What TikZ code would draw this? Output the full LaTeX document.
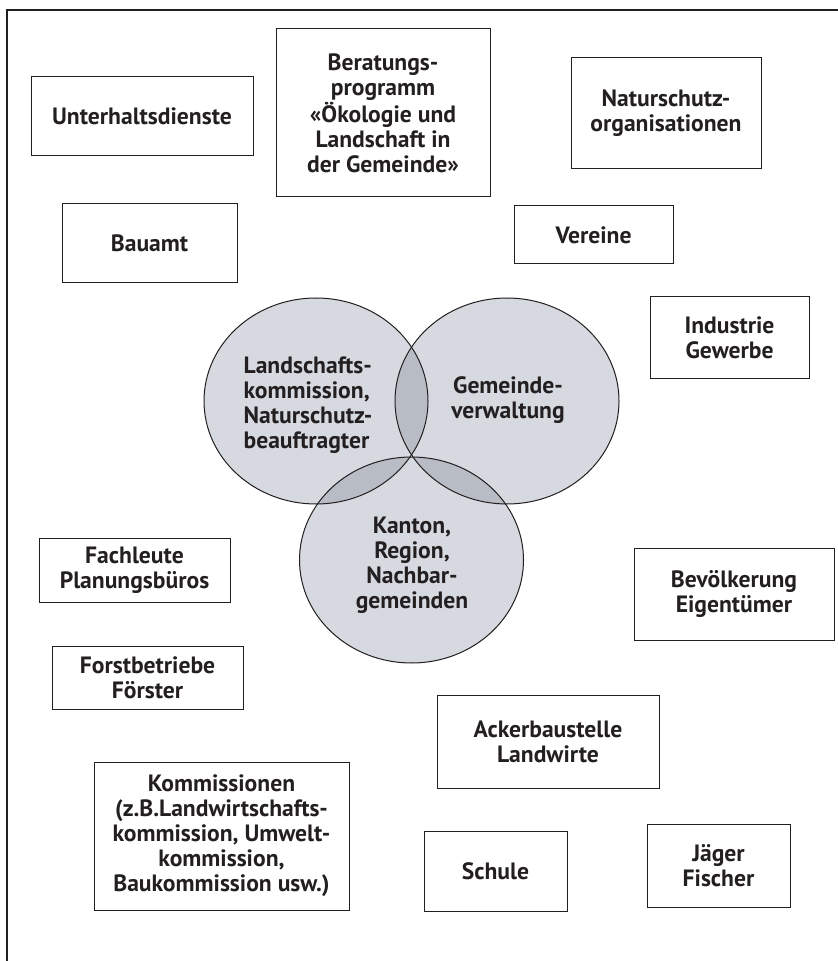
\documentclass[tikz,border=0pt]{standalone}
\usepackage{fontspec}
\setmainfont{PT Sans}
\definecolor{venn}{RGB}{214,217,224}
\definecolor{vennover}{RGB}{184,188,196}
\definecolor{ink}{RGB}{35,31,32}
\newcommand{\boxfont}{\fontsize{11.8}{12.5}\selectfont\bfseries}

\begin{document}
\begin{tikzpicture}[x=0.5pt, y=-0.5pt, every node/.style={text=ink, font=\boxfont, align=center},
    box/.style={draw=ink, line width=0.5pt, rectangle, inner sep=0pt},
    ring/.style={draw=ink, line width=0.5pt}]
    \useasboundingbox (0,0) rectangle (838,961);
    % Frame
    \draw[ink, line width=0.8pt] (7,961) -- (7,10) -- (838,10);

    % Circles
    \fill[venn] (316,401) ellipse [x radius=112, y radius=103];
    \fill[venn] (507,401) ellipse [x radius=112, y radius=103];
    \fill[venn] (411.5,560) ellipse [x radius=112, y radius=103];
    \begin{scope}
        \clip (316,401) ellipse [x radius=112, y radius=103];
        \fill[vennover] (507,401) ellipse [x radius=112, y radius=103];
        \fill[vennover] (411.5,560) ellipse [x radius=112, y radius=103];
    \end{scope}
    \begin{scope}
        \clip (507,401) ellipse [x radius=112, y radius=103];
        \fill[vennover] (411.5,560) ellipse [x radius=112, y radius=103];
    \end{scope}
    \draw[ring] (316,401) ellipse [x radius=112, y radius=103];
    \draw[ring] (507,401) ellipse [x radius=112, y radius=103];
    \draw[ring] (411.5,560) ellipse [x radius=112, y radius=103];

    \node[align=left] (kommission-ls) at (308,405) {Landschafts-\\kommission,\\Naturschutz-\\beauftragter};
    \node (gemeinde) at (508,400) {Gemeinde-\\verwaltung};
    \node (kanton) at (412,565) {Kanton,\\Region,\\Nachbar-\\gemeinden};

    % Top row
    \node[box, minimum width=111pt, minimum height=39.5pt] (unterhalt) at (142,116.5) {Unterhaltsdienste};
    \node[box, minimum width=107pt, minimum height=84pt] (beratung) at (383,113) {Beratungs-\\programm\\«Ökologie und\\Landschaft in\\der Gemeinde»};
    \node[box, minimum width=95pt, minimum height=55.5pt] (natur) at (666,113.5) {Naturschutz-\\organisationen};
    \node[box, minimum width=87.5pt, minimum height=39.5pt] (bauamt) at (149.5,243.5) {Bauamt};
    \node[box, minimum width=79.5pt, minimum height=29pt] (vereine) at (593.5,235) {Vereine};
    \node[box, minimum width=79.5pt, minimum height=41pt] (industrie) at (729.5,338) {Industrie\\Gewerbe};

    % Left side
    \node[box, minimum width=95.5pt, minimum height=32pt] (fachleute) at (134.5,570) {Fachleute\\Planungsbüros};
    \node[box, minimum width=95.5pt, minimum height=31.5pt] (forst) at (147.5,677.5) {Forstbetriebe\\Förster};
    \node[box, minimum width=127.5pt, minimum height=74pt] (kommissionen) at (221.5,836) {Kommissionen\\(z.B.Landwirtschafts-\\kommission, Umwelt-\\kommission,\\Baukommission usw.)};

    % Right side
    \node[box, minimum width=100pt, minimum height=46pt] (bevoelkerung) at (734,594) {Bevölkerung\\Eigentümer};
    \node[box, minimum width=111pt, minimum height=46.5pt] (acker) at (548,741.5) {Ackerbaustelle\\Landwirte};
    \node[box, minimum width=71.5pt, minimum height=40pt] (schule) at (495.5,871) {Schule};
    \node[box, minimum width=71.5pt, minimum height=41.5pt] (jaeger) at (718.5,865.5) {Jäger\\Fischer};
\end{tikzpicture}
\end{document}
